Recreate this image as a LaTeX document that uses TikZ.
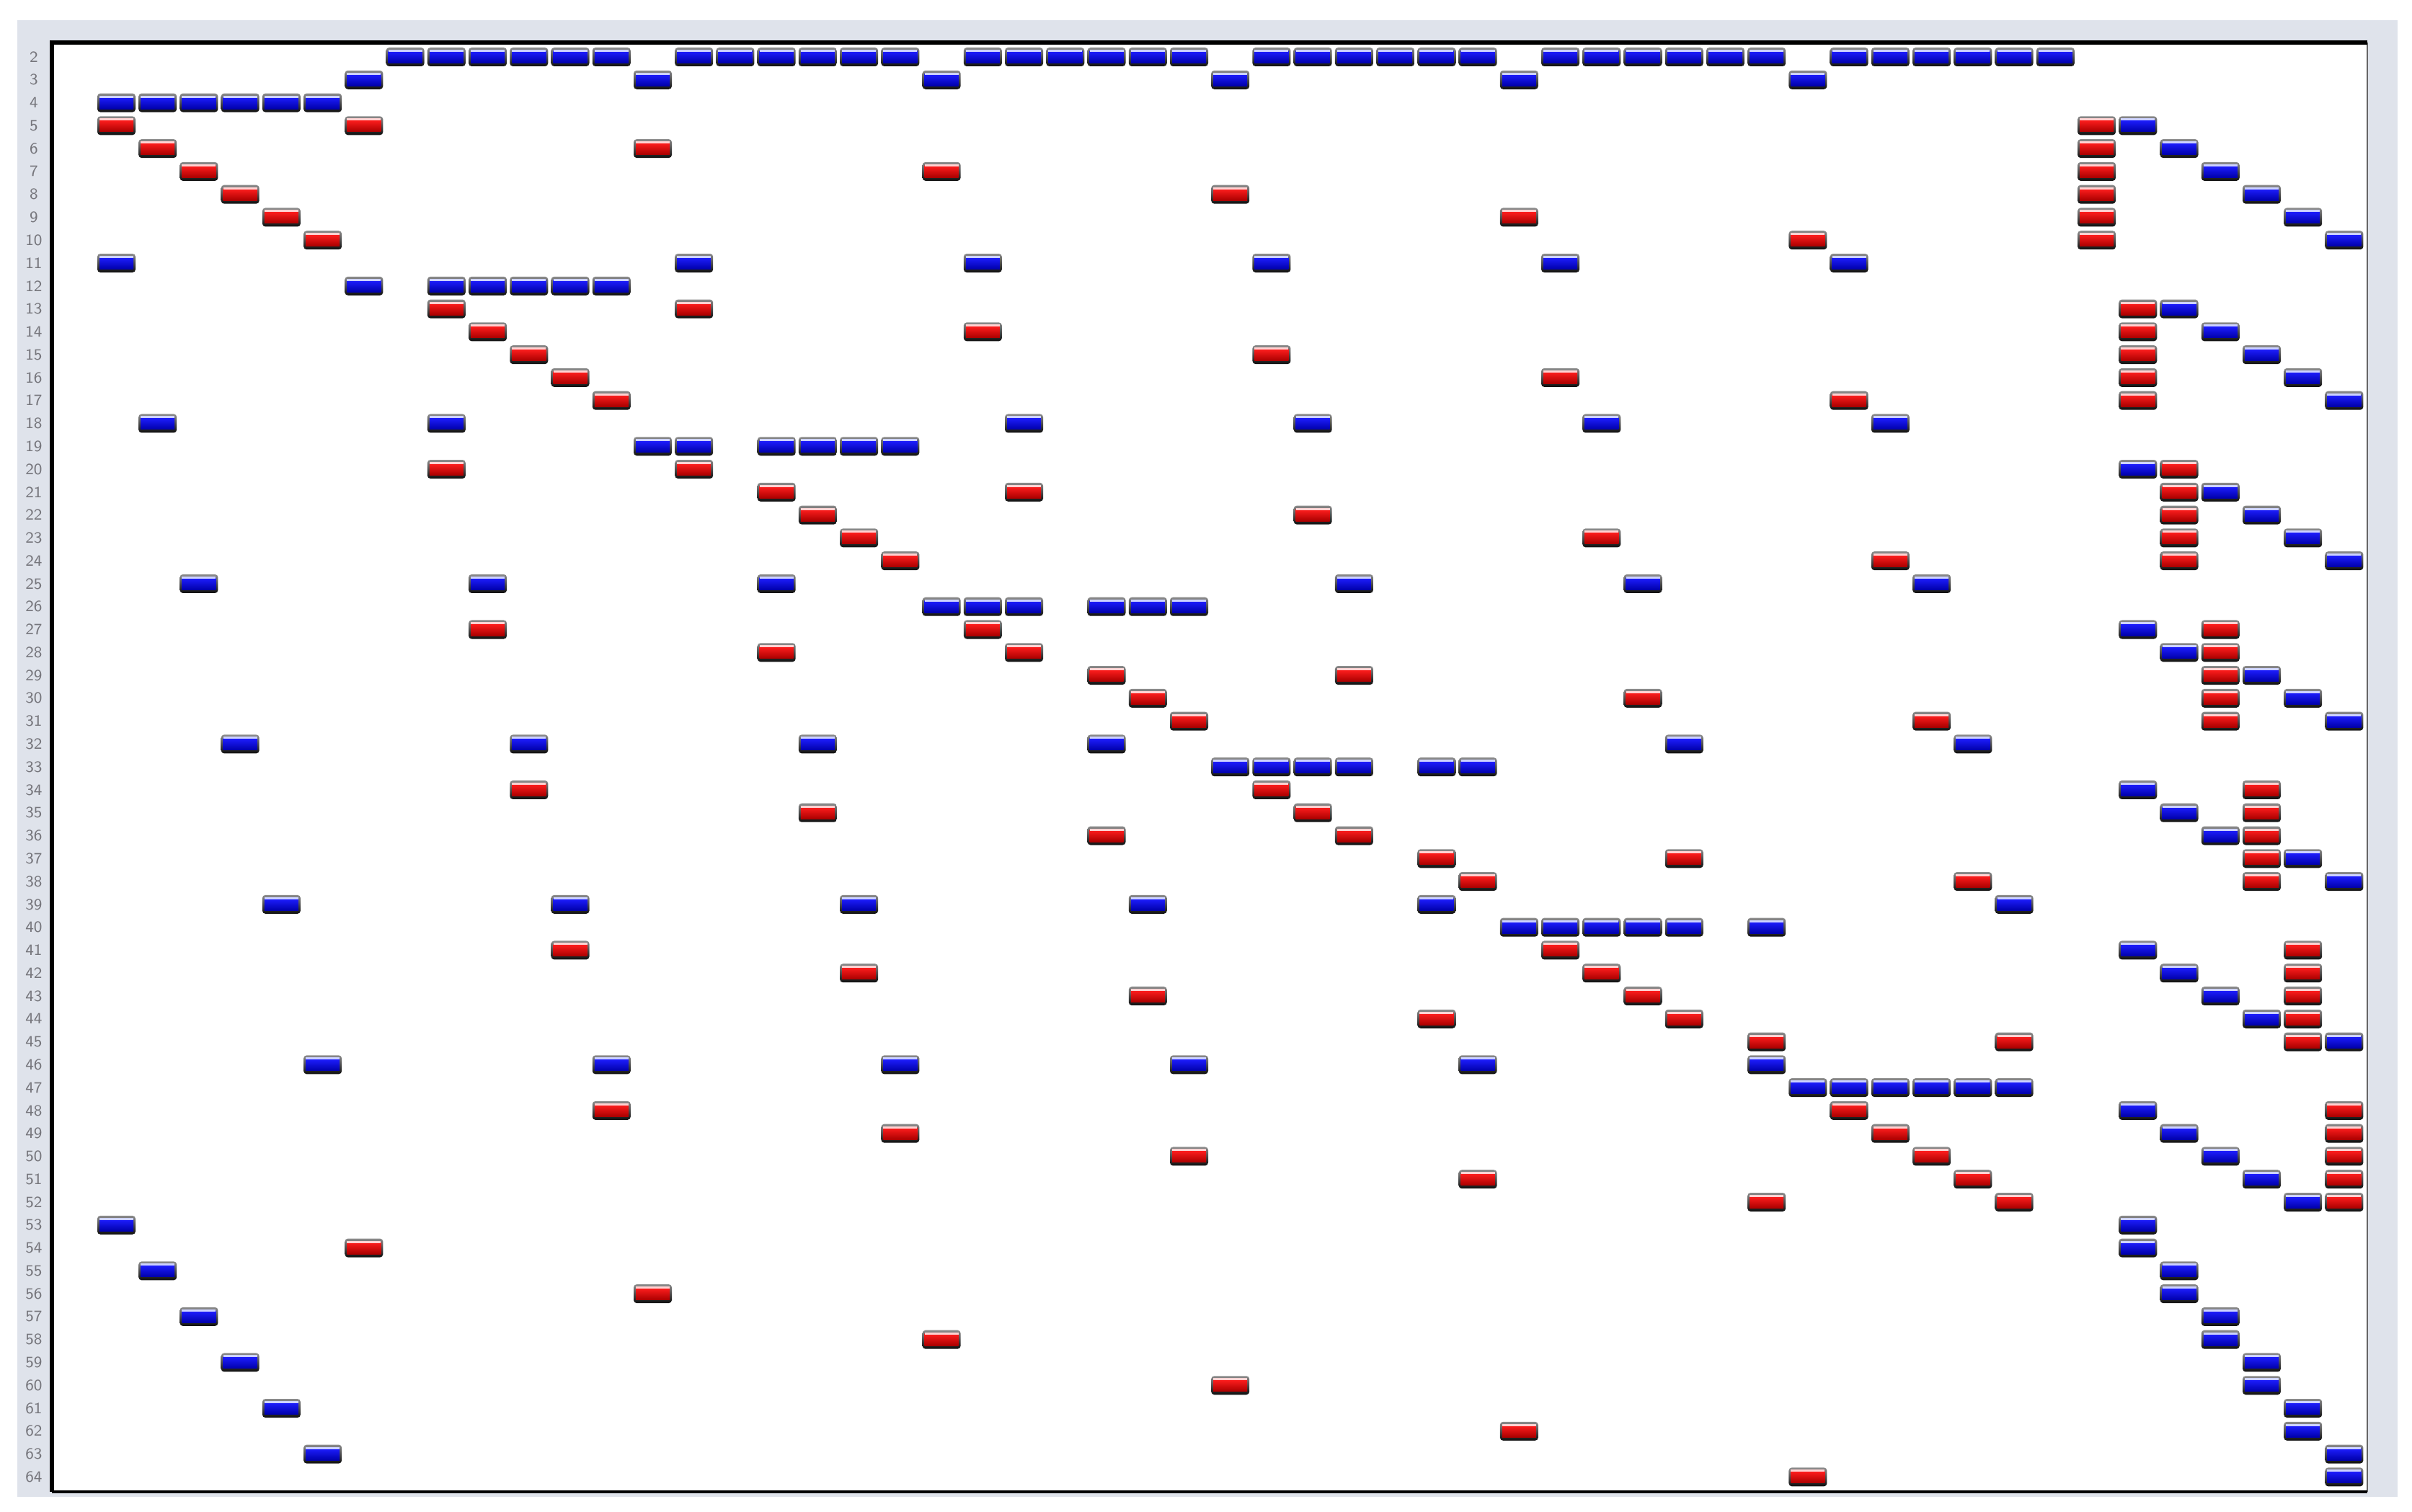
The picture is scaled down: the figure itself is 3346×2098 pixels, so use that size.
\documentclass[tikz,border=0pt]{standalone}
\definecolor{panel}{RGB}{223,227,235}
\definecolor{labgray}{RGB}{118,118,124}
\definecolor{blhi}{RGB}{30,30,255}
\definecolor{blmid}{RGB}{0,0,252}
\definecolor{bllo}{RGB}{0,0,170}
\definecolor{blhl}{RGB}{205,210,255}
\definecolor{rdhi}{RGB}{255,30,30}
\definecolor{rdmid}{RGB}{250,0,0}
\definecolor{rdlo}{RGB}{170,0,0}
\definecolor{rdhl}{RGB}{255,210,210}
\newcommand\mcell[3]{%
  \pgfmathsetmacro\cx{161.5+57.23*#2}%
  \pgfmathsetmacro\cy{79+31.78*(#1-2)}%
  \begin{scope}[shift={(\cx,\cy)}]
    \shade[rounded corners=1.2pt, top color=black!45, bottom color=black!95]
      (-26.5,-13) rectangle (26.5,13);
    \shade[top color=#3hi, middle color=#3mid, bottom color=#3lo]
      (-23.5,-8) rectangle (23.5,8.5);
    \fill[#3hl] (-23.5,-10) rectangle (23.5,-7);
  \end{scope}}
\newcommand\bcells[2]{\foreach \cc in {#2}{\mcell{#1}{\cc}{bl}}}
\newcommand\rcells[2]{\foreach \cc in {#2}{\mcell{#1}{\cc}{rd}}}
\tikzset{lab/.style={font=\sffamily\fontsize{6.2}{6.2}\selectfont, text=labgray, inner sep=0pt}}
\begin{document}
\begin{tikzpicture}[x=0.01cm, y=-0.01cm]
\useasboundingbox (0,0) rectangle (3346,2098);
\fill[white] (0,0) rectangle (3346,2098);
\fill[panel] (24,28) rectangle (3326,2077);
\fill[white] (72,59) rectangle (3284,2070);
% row labels
\foreach \r in {2,...,64} {
  \node[lab] (lab\r) at (47, {79+31.78*(\r-2)}) {\r};
}
% cells
\bcells{2}{7,8,9,10,11,12,14,15,16,17,18,19,21,22,23,24,25,26,28,29,30,31,32,33,35,36,37,38,39,40,42,43,44,45,46,47}
\bcells{3}{6,13,20,27,34,41}
\bcells{4}{0,1,2,3,4,5}
\rcells{5}{0,6,48}\bcells{5}{49}
\rcells{6}{1,13,48}\bcells{6}{50}
\rcells{7}{2,20,48}\bcells{7}{51}
\rcells{8}{3,27,48}\bcells{8}{52}
\rcells{9}{4,34,48}\bcells{9}{53}
\rcells{10}{5,41,48}\bcells{10}{54}
\bcells{11}{0,14,21,28,35,42}
\bcells{12}{6,8,9,10,11,12}
\rcells{13}{8,14,49}\bcells{13}{50}
\rcells{14}{9,21,49}\bcells{14}{51}
\rcells{15}{10,28,49}\bcells{15}{52}
\rcells{16}{11,35,49}\bcells{16}{53}
\rcells{17}{12,42,49}\bcells{17}{54}
\bcells{18}{1,8,22,29,36,43}
\bcells{19}{13,14,16,17,18,19}
\rcells{20}{8,14,50}\bcells{20}{49}
\rcells{21}{16,22,50}\bcells{21}{51}
\rcells{22}{17,29,50}\bcells{22}{52}
\rcells{23}{18,36,50}\bcells{23}{53}
\rcells{24}{19,43,50}\bcells{24}{54}
\bcells{25}{2,9,16,30,37,44}
\bcells{26}{20,21,22,24,25,26}
\rcells{27}{9,21,51}\bcells{27}{49}
\rcells{28}{16,22,51}\bcells{28}{50}
\rcells{29}{24,30,51}\bcells{29}{52}
\rcells{30}{25,37,51}\bcells{30}{53}
\rcells{31}{26,44,51}\bcells{31}{54}
\bcells{32}{3,10,17,24,38,45}
\bcells{33}{27,28,29,30,32,33}
\rcells{34}{10,28,52}\bcells{34}{49}
\rcells{35}{17,29,52}\bcells{35}{50}
\rcells{36}{24,30,52}\bcells{36}{51}
\rcells{37}{32,38,52}\bcells{37}{53}
\rcells{38}{33,45,52}\bcells{38}{54}
\bcells{39}{4,11,18,25,32,46}
\bcells{40}{34,35,36,37,38,40}
\rcells{41}{11,35,53}\bcells{41}{49}
\rcells{42}{18,36,53}\bcells{42}{50}
\rcells{43}{25,37,53}\bcells{43}{51}
\rcells{44}{32,38,53}\bcells{44}{52}
\rcells{45}{40,46,53}\bcells{45}{54}
\bcells{46}{5,12,19,26,33,40}
\bcells{47}{41,42,43,44,45,46}
\rcells{48}{12,42,54}\bcells{48}{49}
\rcells{49}{19,43,54}\bcells{49}{50}
\rcells{50}{26,44,54}\bcells{50}{51}
\rcells{51}{33,45,54}\bcells{51}{52}
\rcells{52}{40,46,54}\bcells{52}{53}
\bcells{53}{0,49}
\rcells{54}{6}\bcells{54}{49}
\bcells{55}{1,50}
\rcells{56}{13}\bcells{56}{50}
\bcells{57}{2,51}
\rcells{58}{20}\bcells{58}{51}
\bcells{59}{3,52}
\rcells{60}{27}\bcells{60}{52}
\bcells{61}{4,53}
\rcells{62}{34}\bcells{62}{53}
\bcells{63}{5,54}
\rcells{64}{41}\bcells{64}{54}
% frame
\draw[line width=0.7pt, black!60] (3284,59) -- (3284,2070);
\draw[line width=1.1pt] (72,2070) -- (3284,2070);
\draw[line width=1.5pt] (72,2070) -- (72,59) -- (3284,59);
\end{tikzpicture}
\end{document}
